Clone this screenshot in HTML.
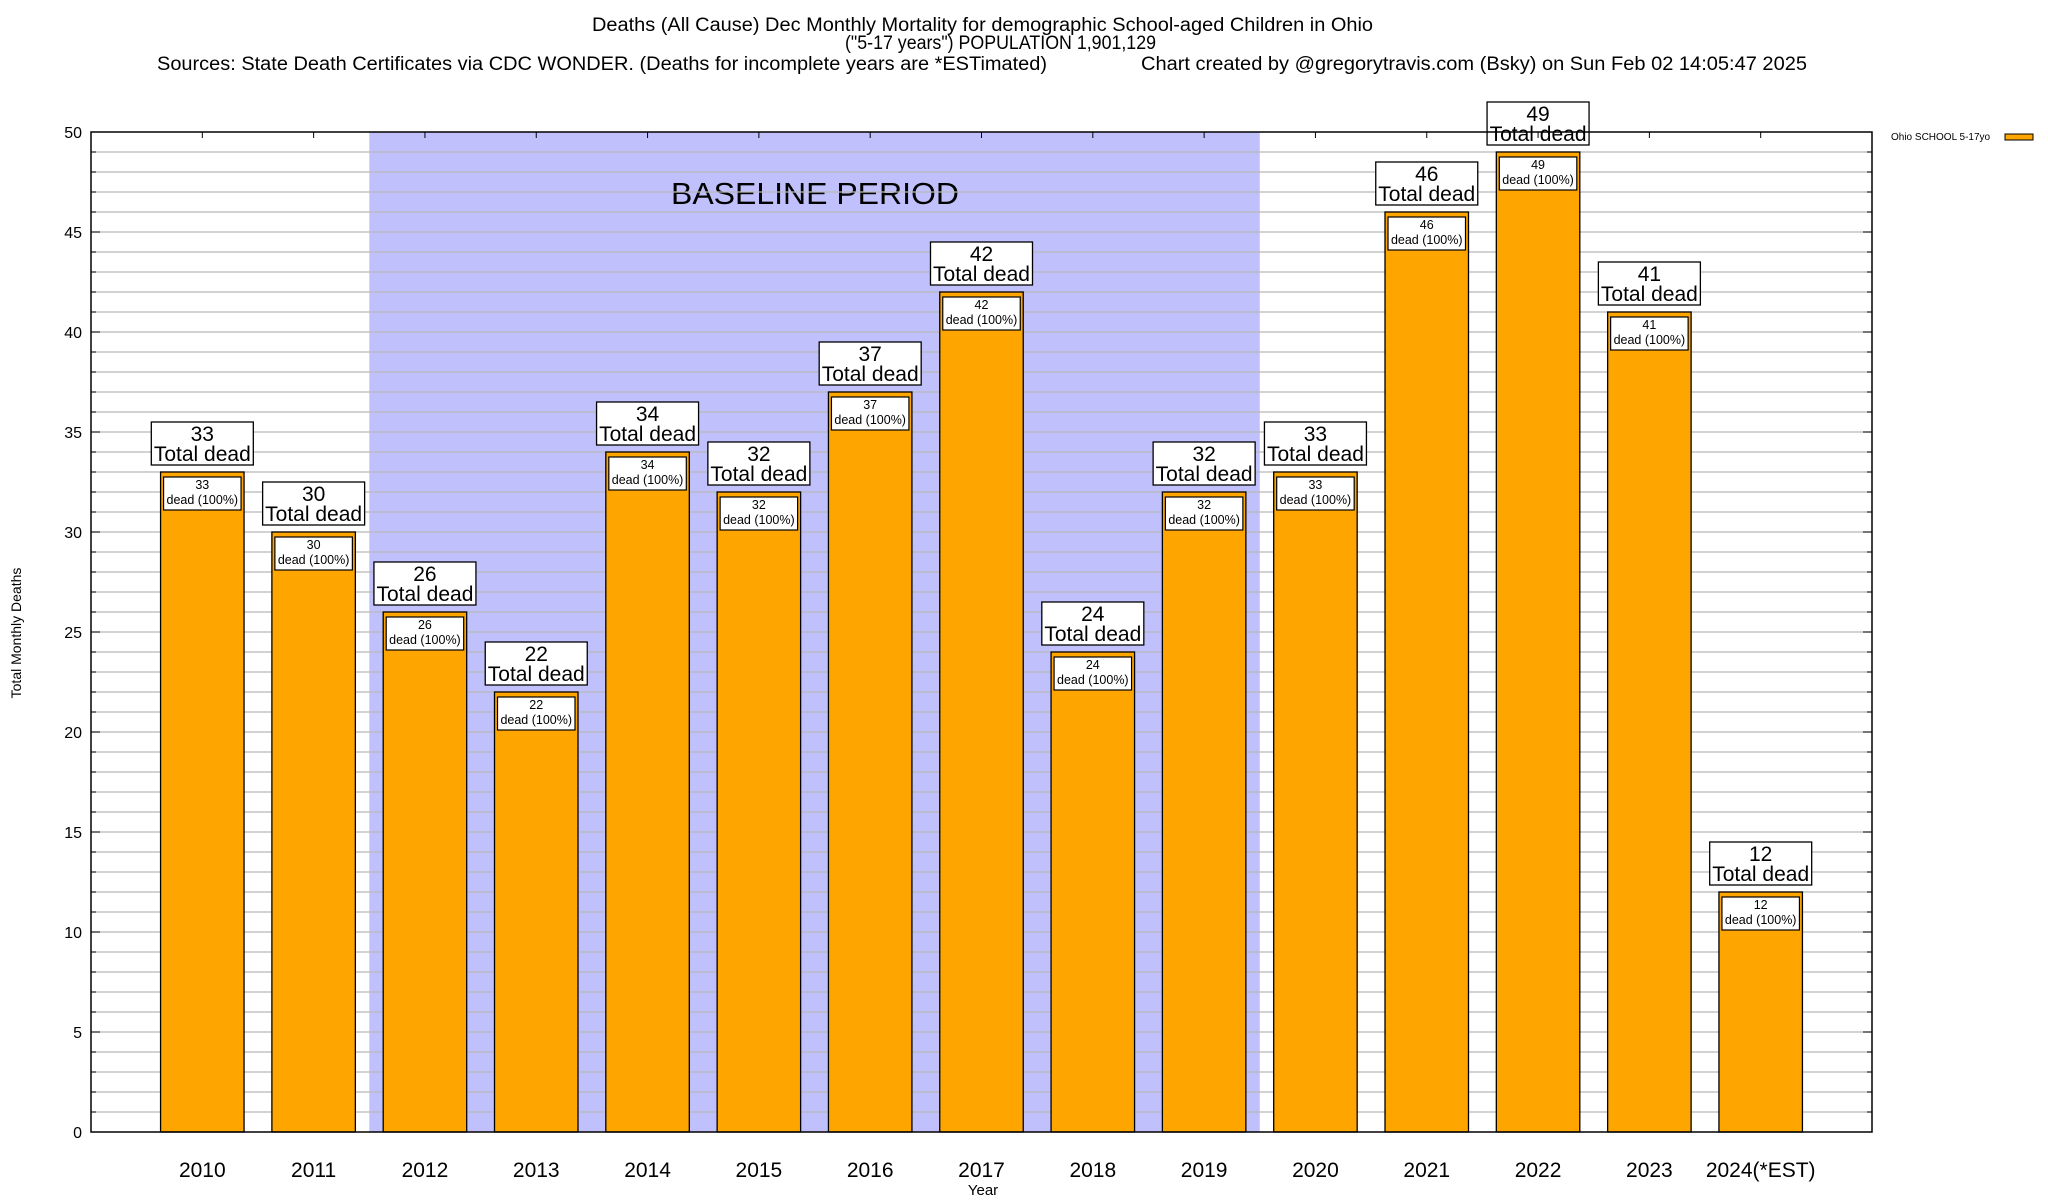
<!DOCTYPE html>
<html><head><meta charset="utf-8"><style>
html,body{margin:0;padding:0;background:#fff;}
svg{display:block;font-family:"Liberation Sans",sans-serif;}
</style></head><body>
<svg id="chart" width="2048" height="1200" xmlns="http://www.w3.org/2000/svg">
<text x="592" y="31" font-size="19" textLength="781" lengthAdjust="spacingAndGlyphs">Deaths (All Cause) Dec Monthly Mortality for demographic School-aged Children in Ohio</text>
<text x="845" y="49" font-size="19" textLength="311" lengthAdjust="spacingAndGlyphs">("5-17 years") POPULATION 1,901,129</text>
<text x="157" y="70" font-size="19" textLength="890" lengthAdjust="spacingAndGlyphs">Sources: State Death Certificates via CDC WONDER. (Deaths for incomplete years are *ESTimated)</text>
<text x="1141" y="70" font-size="19" textLength="666" lengthAdjust="spacingAndGlyphs">Chart created by @gregorytravis.com (Bsky) on Sun Feb 02 14:05:47 2025</text>
<g id="plot"></g>
<text transform="translate(21,633) rotate(-90)" font-size="14" text-anchor="middle">Total Monthly Deaths</text>
<text x="983" y="1195" font-size="15" text-anchor="middle">Year</text>
<text x="1891" y="140" font-size="10">Ohio SCHOOL 5-17yo</text>
<rect x="2005" y="134" width="28" height="6" fill="#ffa500" stroke="#000" stroke-width="1"/>
</svg>
<script>
const categories = ["2010","2011","2012","2013","2014","2015","2016","2017","2018","2019","2020","2021","2022","2023","2024(*EST)"];
const values = [33,30,26,22,34,32,37,42,24,32,33,46,49,41,12];
const yTicks = [0,5,10,15,20,25,30,35,40,45,50];
const baselineRange = [1.5, 9.5];

const L=91,R=1872,T=132,B=1132;
const xMin=-1,xMax=15,yMin=0,yMax=50;
const xs=v=>L+(v-xMin)/(xMax-xMin)*(R-L);
const ys=v=>B-(v-yMin)/(yMax-yMin)*(B-T);
const NS="http://www.w3.org/2000/svg";
const g=document.getElementById('plot');
function mk(tag,attrs,parent){const e=document.createElementNS(NS,tag);for(const k in attrs)e.setAttribute(k,attrs[k]);(parent||g).appendChild(e);return e;}

const bs=mk('rect',{x:xs(baselineRange[0]),y:T,width:xs(baselineRange[1])-xs(baselineRange[0]),height:B-T,fill:'#c0c0fc'});


const bt=mk('text',{x:815,y:204,'font-size':31,'text-anchor':'middle',textLength:288,lengthAdjust:'spacingAndGlyphs'});
bt.textContent='BASELINE PERIOD';



for(let v=1;v<50;v++){
  const gl=mk('line',{x1:L,x2:R,y1:ys(v),y2:ys(v),stroke:'#b8b8b8','stroke-width':1.3});
  
  
  const isMajor=v%5===0;
  mk('line',{x1:L,x2:L+(isMajor?9:5),y1:ys(v),y2:ys(v),stroke:'#000'});
  mk('line',{x1:R,x2:R-(isMajor?9:5),y1:ys(v),y2:ys(v),stroke:'#000'});
}
yTicks.forEach(t=>{
  const tx=mk('text',{x:L-9,y:ys(t)+6,'font-size':16,'text-anchor':'end'});
  tx.textContent=t;
  
  
});

const bw=0.75;
categories.forEach((c,i)=>{
  const v=values[i];
  const x0=xs(i-bw/2),x1=xs(i+bw/2),cx=xs(i);
  const bar=mk('rect',{x:x0,y:ys(v),width:x1-x0,height:ys(0)-ys(v),fill:'#ffa500',stroke:'#000','stroke-width':1.3});
  
  
  const ib=mk('rect',{x:x0+3,y:ys(v)+5,width:x1-x0-6,height:33,fill:'#fff',stroke:'#000','stroke-width':1.2});
  
  
  const it=mk('text',{x:cx,y:ys(v)+17,'font-size':12.5,'text-anchor':'middle'});
  it.textContent=v;
  
  
  const it2=mk('text',{x:cx,y:ys(v)+32,'font-size':12.5,'text-anchor':'middle'});
  it2.textContent='dead (100%)';
  
  
  const tb=mk('rect',{x:cx-51,y:ys(v)-50,width:102,height:43,fill:'#fff',stroke:'#000','stroke-width':1.3});
  
  
  const t1=mk('text',{x:cx,y:ys(v)-31,'font-size':21,'text-anchor':'middle'});
  t1.textContent=v;
  
  
  const t2=mk('text',{x:cx,y:ys(v)-11,'font-size':21,'text-anchor':'middle'});
  t2.textContent='Total dead';
  
  
  mk('line',{x1:cx,x2:cx,y1:T,y2:T+6,stroke:'#000'});
  const xl=mk('text',{x:cx,y:1177,'font-size':21,'text-anchor':'middle'});
  xl.textContent=c;
  
  
});

const frame=mk('rect',{x:L,y:T,width:R-L,height:B-T,fill:'none',stroke:'#000','stroke-width':1.5});


</script>
</body></html>
